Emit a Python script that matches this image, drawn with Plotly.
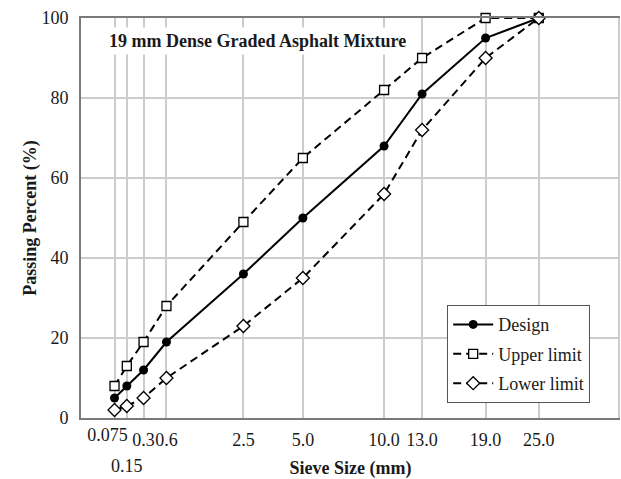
import plotly.graph_objects as go

sieve_sizes = [0.075, 0.15, 0.3, 0.6, 2.5, 5.0, 10.0, 13.0, 19.0, 25.0]
tick_labels = ["", "", "0.3", "0.6", "2.5", "5.0", "10.0", "13.0", "19.0", "25.0"]
first_sieve = [0.075]
first_labels = ["0.075"]
low_row_sieve = [0.15]
low_row_labels = ["0.15"]
design = [5, 8, 12, 19, 36, 50, 68, 81, 95, 100]
upper_limit = [8, 13, 19, 28, 49, 65, 82, 90, 100, 100]
lower_limit = [2, 3, 5, 10, 23, 35, 56, 72, 90, 100]

POW = 0.45
xs = [s ** POW for s in sieve_sizes]
X_END = 5.0
X_RANGE = [0, 5.012]

FONT = "Liberation Serif, Times New Roman, serif"
TXT = "#1a1a1a"

fig = go.Figure()
fig.add_trace(go.Scatter(
    x=xs, y=design, name="Design", mode="lines+markers", legendgroup="a", cliponaxis=False,
    line=dict(color="black", width=2),
    marker=dict(symbol="circle", size=9, color="black"),
))
fig.add_trace(go.Scatter(
    x=xs, y=upper_limit, name="Upper limit", mode="lines+markers", legendgroup="b", cliponaxis=False,
    line=dict(color="black", width=2, dash="8px,5px"),
    marker=dict(symbol="square", size=9, color="white", line=dict(color="black", width=1.3)),
))
fig.add_trace(go.Scatter(
    x=xs, y=lower_limit, name="Lower limit", mode="lines+markers", legendgroup="c", cliponaxis=False,
    line=dict(color="black", width=2, dash="8px,5px"),
    marker=dict(symbol="diamond", size=10, color="white", line=dict(color="black", width=1.3)),
))

fig.add_annotation(
    text="<b>19 mm Dense Graded Asphalt Mixture</b>",
    xref="paper", yref="paper", x=0.0445, y=0.9425, xanchor="left", yanchor="middle",
    showarrow=False, bgcolor="white", borderpad=3,
    font=dict(family=FONT, size=18, color=TXT),
)

fig.update_layout(
    width=621, height=479,
    margin=dict(l=81, r=1, t=18, b=61),
    paper_bgcolor="white", plot_bgcolor="white",
    font=dict(family=FONT, size=18, color=TXT),
    showlegend=True,
    legend=dict(
        x=0.679, y=0.2825, xanchor="left", yanchor="top",
        bordercolor="#555", borderwidth=1.2, bgcolor="white",
        font=dict(family=FONT, size=18, color=TXT),
        itemwidth=40, tracegroupgap=3,
    ),
    xaxis=dict(
        range=X_RANGE, automargin=False,
        tickmode="array", tickvals=xs + [X_END], ticktext=tick_labels + [""],
        tickangle=0,
        showgrid=True, gridcolor="#cccccc", gridwidth=1.5,
        showline=True, linecolor="#7a7a7a", linewidth=2, mirror=True,
        zeroline=False, ticks="", ticklabelstandoff=4,
        tickfont=dict(family=FONT, size=18, color=TXT),
        title=dict(text="<b>Sieve Size (mm)</b>", font=dict(family=FONT, size=18, color=TXT), standoff=18),
    ),
    xaxis2=dict(
        range=X_RANGE, overlaying="x", side="bottom", anchor="y", automargin=False,
        tickmode="array", tickvals=[s ** POW for s in low_row_sieve], ticktext=low_row_labels,
        tickangle=0, showgrid=False, showline=False, zeroline=False, ticks="",
        ticklabelstandoff=35,
        tickfont=dict(family=FONT, size=18, color=TXT),
    ),
    xaxis3=dict(
        range=X_RANGE, overlaying="x", side="bottom", anchor="y", automargin=False,
        tickmode="array", tickvals=[s ** POW for s in first_sieve], ticktext=first_labels,
        tickangle=0, showgrid=False, showline=False, zeroline=False, ticks="",
        ticklabelstandoff=4, ticklabelshift=-7,
        tickfont=dict(family=FONT, size=18, color=TXT),
    ),
    yaxis=dict(
        range=[0, 100], tickvals=[0, 20, 40, 60, 80, 100], automargin=False,
        showgrid=True, gridcolor="#cccccc", gridwidth=1.5,
        showline=True, linecolor="#7a7a7a", linewidth=2,
        zeroline=False, ticks="", ticklabelstandoff=7,
        tickfont=dict(family=FONT, size=18, color=TXT),
        title=dict(text="<b>Passing Percent (%)</b>", font=dict(family=FONT, size=18, color=TXT), standoff=0),
    ),
)
# invisible traces to activate the secondary x axes carrying the offset labels
fig.add_trace(go.Scatter(x=[], y=[], xaxis="x2", showlegend=False, hoverinfo="skip"))
fig.add_trace(go.Scatter(x=[], y=[], xaxis="x3", showlegend=False, hoverinfo="skip"))

fig.write_html(
    "out.html",
    config={"displayModeBar": False},
    post_script="document.body.style.margin='0';document.body.style.overflow='hidden';",
)
